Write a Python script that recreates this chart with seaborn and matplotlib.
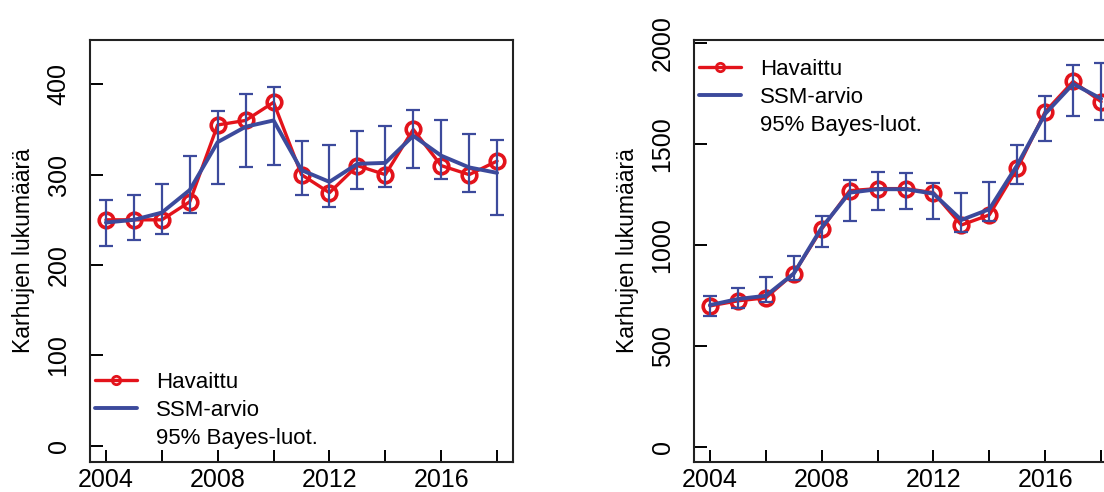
import matplotlib
matplotlib.use("Agg")
import matplotlib.pyplot as plt
from matplotlib.lines import Line2D
import seaborn as sns
import pandas as pd

years = list(range(2004, 2019))

# vasen paneeli
left_obs = [250, 250, 250, 270, 355, 360, 380, 300, 280, 310, 300, 350, 310, 300, 315]
left_est = [247, 250, 258, 283, 336, 353, 360, 305, 292, 312, 313, 343, 321, 308, 302]
left_lo = [221, 228, 234, 258, 290, 308, 311, 277, 264, 284, 286, 307, 295, 281, 255]
left_hi = [272, 278, 290, 321, 370, 389, 397, 337, 333, 348, 354, 372, 360, 345, 338]

# oikea paneeli
right_obs = [700, 725, 740, 860, 1080, 1270, 1280, 1280, 1260, 1100, 1150, 1380, 1660, 1810, 1710]
right_est = [704, 734, 750, 860, 1087, 1260, 1277, 1277, 1255, 1125, 1178, 1397, 1650, 1798, 1725]
right_lo = [652, 690, 717, 828, 993, 1120, 1175, 1178, 1129, 1067, 1120, 1301, 1515, 1639, 1617]
right_hi = [747, 788, 844, 948, 1145, 1321, 1364, 1359, 1310, 1258, 1314, 1496, 1737, 1889, 1902]

left_yticks = [0, 100, 200, 300, 400]
right_yticks = [0, 500, 1000, 1500, 2000]
xticks = list(range(2004, 2019, 2))
xlabels = ["2004", "", "2008", "", "2012", "", "2016", ""]

red = "#E3131B"
blue = "#3C4A9C"

sns.set_theme(style="white", rc={"text.color": "black", "axes.labelcolor": "black",
                                 "xtick.color": "black", "ytick.color": "black"})
plt.rcParams['font.family'] = ['Liberation Sans', 'DejaVu Sans']

fig = plt.figure(figsize=(11.04, 4.92), dpi=100)
ax1 = fig.add_axes([90 / 1104, 30 / 492, 423 / 1104, 422 / 492])
ax2 = fig.add_axes([694 / 1104, 30 / 492, 423 / 1104, 422 / 492])


def panel(ax, obs, est, lo, hi, yticks, ylim, legend_loc, legend_anchor):
    df = pd.DataFrame({"vuosi": years, "obs": obs, "est": est, "lo": lo, "hi": hi})
    sns.lineplot(data=df, x="vuosi", y="obs", ax=ax, color=red, lw=2.4,
                 marker="o", markersize=10.5, markerfacecolor="none",
                 markeredgecolor=red, markeredgewidth=2.6, zorder=2)
    sns.lineplot(data=df, x="vuosi", y="est", ax=ax, color=blue, lw=2.8, zorder=3)
    ax.errorbar(df["vuosi"], df["est"],
                yerr=[df["est"] - df["lo"], df["hi"] - df["est"]],
                fmt="none", ecolor=blue, elinewidth=1.6, capsize=5, capthick=1.6, zorder=4)
    ax.set_xlim(2003.43, 2018.57)
    ax.set_ylim(*ylim)
    ax.set_xticks(xticks)
    ax.set_xticklabels(xlabels)
    ax.set_yticks(yticks)
    ax.set_yticklabels([str(v) for v in yticks], rotation=90, va="center")
    ax.tick_params(axis="both", direction="in", length=9, width=1.4, labelsize=18,
                   colors="black", bottom=True, left=True)
    ax.tick_params(axis="y", pad=14)
    ax.tick_params(axis="x", pad=4)
    for s in ax.spines.values():
        s.set_linewidth(1.5)
        s.set_color("#222222")
    ax.set_xlabel("")
    ax.set_ylabel("Karhujen lukumäärä", fontsize=16.5, labelpad=8)
    handles = [
        Line2D([], [], color=red, lw=2.4, marker="o", markersize=6,
               markerfacecolor="none", markeredgewidth=2),
        Line2D([], [], color=blue, lw=2.8),
        Line2D([], [], color="none"),
    ]
    ax.legend(handles, ["Havaittu", "SSM-arvio", "95% Bayes-luot."], loc=legend_loc,
              bbox_to_anchor=legend_anchor, frameon=False, fontsize=16,
              handlelength=1.9, handletextpad=0.85, labelspacing=0.32,
              borderaxespad=0, borderpad=0)


panel(ax1, left_obs, left_est, left_lo, left_hi, left_yticks, (-18, 449),
      "lower left", (0.012, 0.03))
panel(ax2, right_obs, right_est, right_lo, right_hi, right_yticks, (-72, 2015),
      "upper left", (0.012, 0.955))

fig.savefig("out.png", dpi=100)
